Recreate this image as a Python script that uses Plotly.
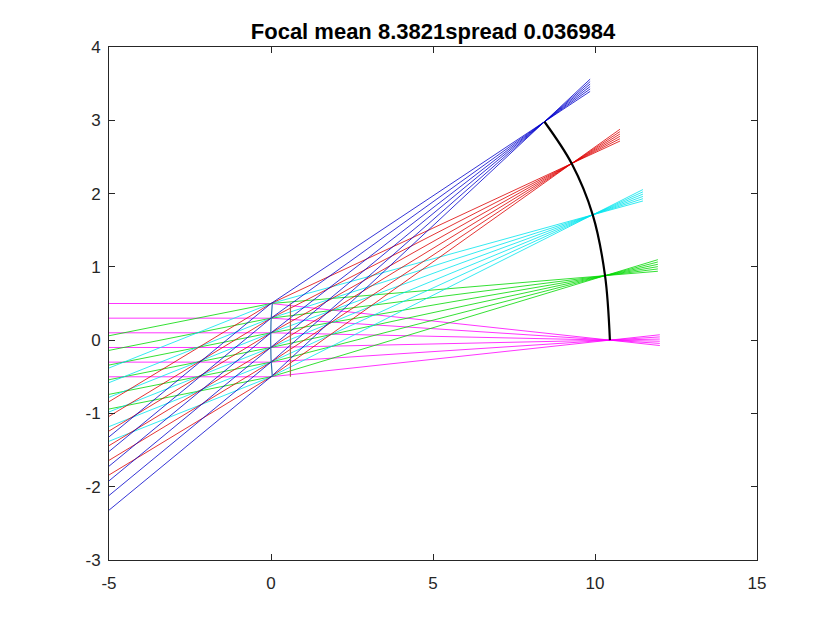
"""Ray fans through a thin lens with the focal surface traced in black."""

import plotly.graph_objects as go

# heights where each ray meets the lens
lens_heights = [0.5, 0.3, 0.1, -0.1, -0.3, -0.5]

# one fan per field angle (0, 5, 10, 15, 20 deg)
fan_colors = ["#ff00ff", "#00d800", "#00e5ee", "#dd0000", "#0000cc"]
start_x = -5.0
start_y = [
    [0.5, 0.3, 0.1, -0.1, -0.3, -0.5],
    [0.06, -0.14, -0.34, -0.54, -0.74, -0.94],
    [-0.38, -0.58, -0.78, -0.98, -1.18, -1.38],
    [-0.84, -1.04, -1.24, -1.44, -1.64, -1.84],
    [-1.32, -1.52, -1.72, -1.92, -2.12, -2.32],
]
focus_x = [10.46, 10.31, 9.93, 9.28, 8.44]
focus_y = [0.0, 0.88, 1.71, 2.41, 2.98]
end_x = [12.0, 11.94, 11.48, 10.77, 9.85]

# lens surfaces
lens_front_x = [0.04, 0.0, -0.01, 0.0, 0.04]
lens_front_y = [0.5, 0.25, 0.0, -0.25, -0.5]
lens_back_x = [0.6, 0.6]
lens_back_y = [0.5, -0.5]

x_ticks = [-5, 0, 5, 10, 15]
y_ticks = [-3, -2, -1, 0, 1, 2, 3, 4]

title = "Focal mean 8.3821spread 0.036984"

fig = go.Figure()

for i, color in enumerate(fan_colors):
    xs, ys = [], []
    fx, fy = focus_x[i], focus_y[i]
    for y0, h in zip(start_y[i], lens_heights):
        # after the lens the ray runs through the focus and a bit past it
        slope = (fy - h) / fx
        ye = fy + slope * (end_x[i] - fx)
        xs += [start_x, 0.0, fx, end_x[i], None]
        ys += [y0, h, fy, ye, None]
    fig.add_trace(go.Scatter(x=xs, y=ys, mode="lines",
                             line=dict(color=color, width=0.8),
                             hoverinfo="skip"))

fig.add_trace(go.Scatter(x=lens_front_x, y=lens_front_y, mode="lines",
                         line=dict(color="#2f6faf", width=1.2)))
fig.add_trace(go.Scatter(x=lens_back_x, y=lens_back_y, mode="lines",
                         line=dict(color="#a8664a", width=1.2)))

# focal surface
fig.add_trace(go.Scatter(x=focus_x, y=focus_y, mode="lines",
                         line=dict(color="black", width=2.2, shape="spline")))

axis_style = dict(
    showline=True, mirror="ticks", linecolor="#262626", linewidth=1,
    ticks="inside", ticklen=6, tickcolor="#262626",
    showgrid=False, zeroline=False,
    tickfont=dict(family="Arial", size=17, color="#262626"),
)

# the page sits 8px in from the window edge, so the figure is 8px smaller
fig.update_layout(
    width=832, height=622,
    margin=dict(l=101, r=83, t=39, b=70),
    paper_bgcolor="white", plot_bgcolor="white",
    showlegend=False,
    title=dict(text="<b>" + title + "</b>", x=(433 - 8) / 832, xanchor="center",
               y=1 - 23 / 622, yanchor="middle",
               font=dict(family="Arial", size=22, color="black")),
    xaxis=dict(range=[-5, 15], tickvals=x_ticks, ticklabelstandoff=8,
               ticktext=[str(v) for v in x_ticks], **axis_style),
    yaxis=dict(range=[-3, 4], tickvals=y_ticks, ticklabelstandoff=4,
               ticktext=[str(v) for v in y_ticks], **axis_style),
)

fig.write_html("out.html")
